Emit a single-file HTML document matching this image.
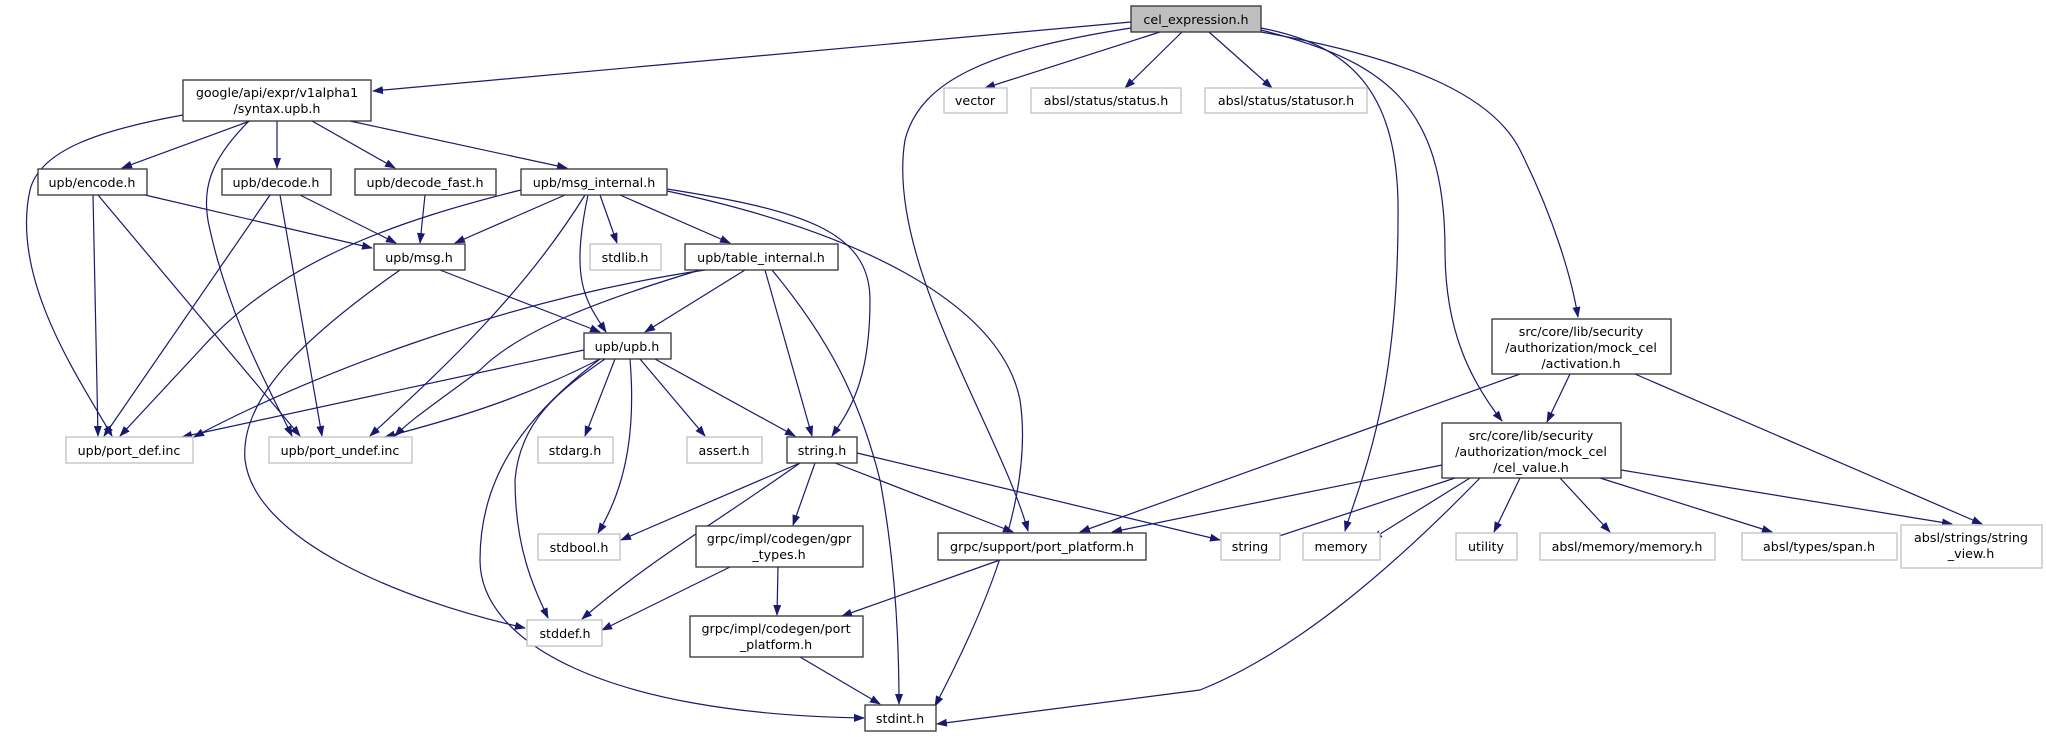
<!DOCTYPE html>
<html><head><meta charset="utf-8"><style>
html,body{margin:0;padding:0;background:#fff;}
svg{display:block;}
text{font-family:"DejaVu Sans","Liberation Sans",sans-serif;font-size:12.7px;fill:#000;text-anchor:middle;}
.e{fill:none;stroke:#191970;stroke-width:1.2;marker-end:url(#a);}
.n{fill:#fff;stroke:#333;stroke-width:1.3;}
.g{fill:#fff;stroke:#bfbfbf;stroke-width:1.3;}
</style></head><body>
<svg width="2046" height="737" viewBox="0 0 2046 737" xmlns="http://www.w3.org/2000/svg">
<defs><marker id="a" markerWidth="11" markerHeight="8" refX="10" refY="4" orient="auto" markerUnits="userSpaceOnUse"><path d="M0,0 L11,4 L0,8 Z" fill="#191970"/></marker></defs>
<!-- edges -->
<path class="e" d="M1131,22 L373,91"/>
<path class="e" d="M1160,32 L985,88"/>
<path class="e" d="M1182,32 L1125,88"/>
<path class="e" d="M1209,32 L1272,88"/>
<path class="e" d="M1131,28 C990,50 920,80 905,140 C885,260 1000,430 1028,531"/>
<path class="e" d="M1261,28 C1350,45 1395,90 1398,200 C1400,400 1360,480 1345,531"/>
<path class="e" d="M1261,30 C1380,60 1445,100 1445,250 C1445,330 1470,380 1502,421"/>
<path class="e" d="M1261,32 C1420,60 1495,100 1520,150 C1555,220 1572,280 1578,317"/>
<path class="e" d="M250,121 L122,168"/>
<path class="e" d="M277,121 L277,168"/>
<path class="e" d="M312,121 L395,168"/>
<path class="e" d="M350,121 L567,168"/>
<path class="e" d="M183,115 C100,130 40,150 30,190 C10,280 80,380 112,436"/>
<path class="e" d="M249,121 C210,160 200,190 210,230 C230,320 270,390 292,436"/>
<path class="e" d="M145,195 L372,248"/>
<path class="e" d="M93,195 L98,436"/>
<path class="e" d="M98,195 L300,436"/>
<path class="e" d="M300,195 L396,243"/>
<path class="e" d="M270,195 L104,436"/>
<path class="e" d="M280,195 L322,436"/>
<path class="e" d="M425,195 L420,243"/>
<path class="e" d="M565,195 L455,243"/>
<path class="e" d="M521,190 C400,220 280,260 200,350 L120,436"/>
<path class="e" d="M585,195 C520,300 430,380 370,436"/>
<path class="e" d="M600,195 L617,243"/>
<path class="e" d="M588,195 C570,280 585,300 606,332"/>
<path class="e" d="M620,195 L730,243"/>
<path class="e" d="M667,189 C800,210 870,230 870,300 C870,380 850,410 832,436"/>
<path class="e" d="M667,191 C850,230 1000,300 1020,400 C1035,500 980,620 935,706"/>
<path class="e" d="M440,270 L600,332"/>
<path class="e" d="M400,270 C300,340 240,400 245,460 C255,540 400,600 525,628"/>
<path class="e" d="M745,270 L645,332"/>
<path class="e" d="M705,270 C500,300 300,380 194,437"/>
<path class="e" d="M700,270 C600,300 520,330 480,370 C440,400 410,420 395,436"/>
<path class="e" d="M765,270 L812,436"/>
<path class="e" d="M772,270 C830,340 860,400 880,480 C895,560 899,640 899,704"/>
<path class="e" d="M584,350 L182,437"/>
<path class="e" d="M600,359 C520,400 450,420 385,437"/>
<path class="e" d="M615,359 L585,436"/>
<path class="e" d="M640,359 L705,436"/>
<path class="e" d="M655,359 L795,436"/>
<path class="e" d="M630,359 C635,420 630,480 598,533"/>
<path class="e" d="M605,359 C560,390 520,420 515,480 C515,550 535,590 548,618"/>
<path class="e" d="M600,359 C520,420 480,480 480,560 C480,640 600,714 864,718"/>
<path class="e" d="M800,463 L621,540"/>
<path class="e" d="M800,463 C720,520 650,560 582,619"/>
<path class="e" d="M815,463 L793,525"/>
<path class="e" d="M835,463 L1013,532"/>
<path class="e" d="M857,453 L1220,540"/>
<path class="e" d="M730,567 L602,630"/>
<path class="e" d="M778,567 L777,615"/>
<path class="e" d="M1000,560 L842,616"/>
<path class="e" d="M800,657 L880,704"/>
<path class="e" d="M1520,374 L1080,532"/>
<path class="e" d="M1570,374 L1547,422"/>
<path class="e" d="M1635,374 L1982,524"/>
<path class="e" d="M1442,465 L1112,532"/>
<path class="e" d="M1455,478 L1270,539"/>
<path class="e" d="M1470,478 L1372,539"/>
<path class="e" d="M1480,478 C1400,560 1300,650 1200,690 L937,724"/>
<path class="e" d="M1520,478 L1494,532"/>
<path class="e" d="M1560,478 L1610,532"/>
<path class="e" d="M1600,478 L1772,532"/>
<path class="e" d="M1621,470 L1952,524"/>
<!-- nodes -->
<rect x="1131" y="6" width="130" height="26" fill="#bfbfbf" stroke="#333" stroke-width="1.3"/><text x="1196" y="24">cel_expression.h</text>
<rect class="n" x="183" y="80" width="188" height="41"/><text x="277" y="97">google/api/expr/v1alpha1</text><text x="277" y="113">/syntax.upb.h</text>
<rect class="n" x="38" y="169" width="109" height="26"/><text x="92" y="187">upb/encode.h</text>
<rect class="n" x="222" y="169" width="109" height="26"/><text x="276" y="187">upb/decode.h</text>
<rect class="n" x="355" y="169" width="141" height="26"/><text x="425" y="187">upb/decode_fast.h</text>
<rect class="n" x="521" y="169" width="146" height="26"/><text x="594" y="187">upb/msg_internal.h</text>
<rect class="n" x="374" y="244" width="91" height="26"/><text x="419" y="262">upb/msg.h</text>
<rect class="g" x="590" y="244" width="71" height="26"/><text x="625" y="262">stdlib.h</text>
<rect class="n" x="685" y="244" width="153" height="26"/><text x="761" y="262">upb/table_internal.h</text>
<rect class="n" x="584" y="333" width="87" height="26"/><text x="627" y="351">upb/upb.h</text>
<rect class="g" x="66" y="437" width="127" height="26"/><text x="129" y="455">upb/port_def.inc</text>
<rect class="g" x="269" y="437" width="143" height="26"/><text x="340" y="455">upb/port_undef.inc</text>
<rect class="g" x="538" y="437" width="75" height="26"/><text x="575" y="455">stdarg.h</text>
<rect class="g" x="687" y="437" width="75" height="26"/><text x="724" y="455">assert.h</text>
<rect class="n" x="787" y="437" width="70" height="26"/><text x="822" y="455">string.h</text>
<rect class="g" x="538" y="534" width="82" height="26"/><text x="579" y="552">stdbool.h</text>
<rect class="n" x="696" y="526" width="167" height="41"/><text x="779" y="543">grpc/impl/codegen/gpr</text><text x="779" y="559">_types.h</text>
<rect class="n" x="938" y="533" width="208" height="27"/><text x="1042" y="551">grpc/support/port_platform.h</text>
<rect class="g" x="527" y="620" width="75" height="26"/><text x="565" y="638">stddef.h</text>
<rect class="n" x="690" y="616" width="173" height="41"/><text x="776" y="633">grpc/impl/codegen/port</text><text x="776" y="649">_platform.h</text>
<rect class="n" x="865" y="705" width="71" height="26"/><text x="900" y="723">stdint.h</text>
<rect class="g" x="944" y="88" width="63" height="25"/><text x="975" y="105">vector</text>
<rect class="g" x="1031" y="88" width="150" height="25"/><text x="1106" y="105">absl/status/status.h</text>
<rect class="g" x="1205" y="88" width="162" height="25"/><text x="1286" y="105">absl/status/statusor.h</text>
<rect class="n" x="1492" y="319" width="179" height="55"/><text x="1581" y="336">src/core/lib/security</text><text x="1581" y="352">/authorization/mock_cel</text><text x="1581" y="368">/activation.h</text>
<rect class="n" x="1442" y="423" width="179" height="55"/><text x="1531" y="440">src/core/lib/security</text><text x="1531" y="456">/authorization/mock_cel</text><text x="1531" y="472">/cel_value.h</text>
<rect class="g" x="1221" y="533" width="59" height="27"/><text x="1250" y="551">string</text>
<rect class="g" x="1303" y="533" width="77" height="27"/><text x="1341" y="551">memory</text>
<rect class="g" x="1456" y="533" width="61" height="27"/><text x="1486" y="551">utility</text>
<rect class="g" x="1540" y="533" width="175" height="27"/><text x="1627" y="551">absl/memory/memory.h</text>
<rect class="g" x="1742" y="533" width="155" height="27"/><text x="1819" y="551">absl/types/span.h</text>
<rect class="g" x="1901" y="525" width="141" height="43"/><text x="1971" y="542">absl/strings/string</text><text x="1971" y="558">_view.h</text>
</svg>
</body></html>
